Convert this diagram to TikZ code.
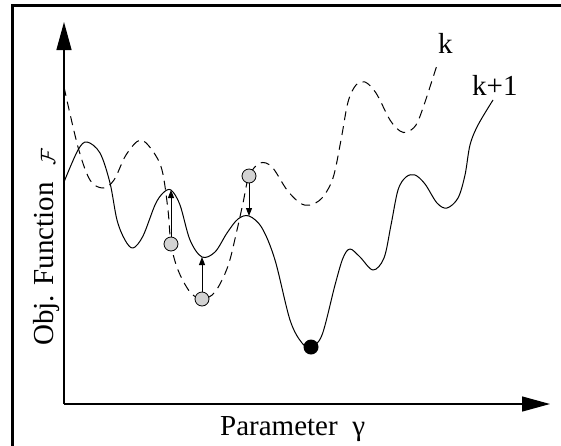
\documentclass[tikz,border=0pt]{standalone}
\usepackage{fontspec}
\setmainfont{Liberation Serif}
\usetikzlibrary{arrows.meta, positioning}
\definecolor{cgrey}{HTML}{D3D3D3}
\tikzset{
  every picture/.style={x=1pt, y=-1pt, font=\fontsize{29}{33}\selectfont},
  txt/.style={inner sep=0pt},
  curve/.style={line width=1pt, line join=round},
  oldcurve/.style={curve, dash pattern=on 9pt off 6pt},
  trial/.style={circle, draw, fill=cgrey, minimum size=14pt, inner sep=0pt, line width=0.8pt},
  best/.style={circle, fill=black, minimum size=15pt, inner sep=0pt},
  axis/.style={line width=1.3pt, -{Triangle[length=28pt, width=15pt]}},
  move/.style={line width=1pt, -{Triangle[length=8pt, width=6pt]}},
}

\begin{document}
\begin{tikzpicture}
  \useasboundingbox (0,0) rectangle (561,445);
  % frame, only the left and top edges are in view
  \draw[line width=3pt] (12.5,450) -- (12.5,5.5) -- (570,5.5);
  % axes
  \coordinate (origin) at (64,404);
  \coordinate (ytip) at (64,22);
  \coordinate (xtip) at (550,404);
  \draw[axis] (origin) -- (ytip);
  \draw[axis] (origin) -- (xtip);
  \node[txt, anchor=base west] (xlab) at (220,435) {Parameter~~γ};
  \node[txt, rotate=90, anchor=base west] (ylab) at (53,346) {Obj. Function};
  \node[txt, rotate=90, anchor=base west, font=\fontsize{21}{24}\selectfont] (fsym) at (55,166) {$\mathcal{F}$};
  % iteration k (dashed)
  \draw[oldcurve] plot[smooth, tension=0.55] coordinates {
    (64,87) (78,147) (90,180) (103,188) (114,180) (126,155) (140,140) (152,150)
    (162,170) (168,210) (171,244) (178,270) (190,292) (202,299) (215,292)
    (228,266) (237,230) (243,203) (249,176) (260,163) (272,167) (287,190)
    (300,203) (310,205) (322,198) (333,178) (341,140) (348,102) (356,85)
    (365,82) (376,93) (390,120) (400,131) (407,132) (416,125) (424,105) (437,65)};
  % iteration k+1 (solid)
  \draw[curve] plot[smooth, tension=0.55] coordinates {
    (64,182) (78,150) (87,142) (100,153) (110,183) (117,220) (125,240) (133,248)
    (143,236) (155,205) (163,193) (171,190) (180,205) (190,240) (202,257)
    (215,252) (227,233) (238,219) (249,216) (262,228) (275,260) (290,320)
    (302,343) (311,347) (322,335) (335,285) (343,258) (350,249) (360,257)
    (373,270) (384,258) (391,225) (398,190) (406,177) (415,175) (425,184)
    (437,203) (447,208) (458,198) (465,175) (470,145) (478,125) (493,100)};
  \node[txt, anchor=base west] (klab) at (438,53) {k};
  \node[txt, anchor=base west] (kplab) at (472,95) {k+1};
  % trial points of k, moved onto k+1
  \node[trial] (t1) at (171,244) {};
  \node[trial] (t2) at (202,299) {};
  \node[trial] (t3) at (249,176) {};
  \node[best] (opt) at (311,347) {};
  \coordinate (p1) at (171,190);
  \coordinate (p2) at (202,257);
  \coordinate (p3) at (249,216);
  \draw[move] (t1) -- (p1);
  \draw[move] (t2) -- (p2);
  \draw[move] (t3) -- (p3);
\end{tikzpicture}
\end{document}
